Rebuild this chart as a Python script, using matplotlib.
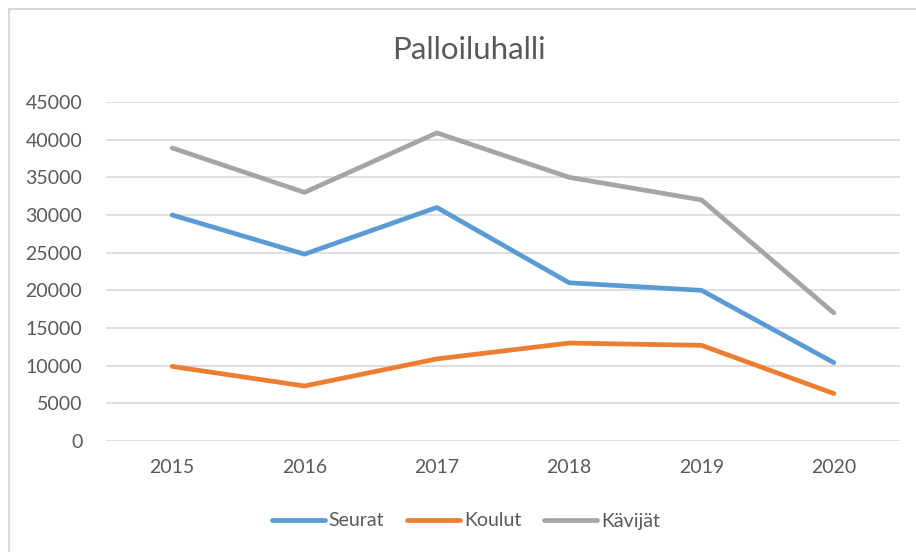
import matplotlib
matplotlib.use("Agg")
import matplotlib.pyplot as plt
from matplotlib.patches import Rectangle

plt.rcParams['font.family'] = ['Lato', 'DejaVu Sans']

years = ["2015", "2016", "2017", "2018", "2019", "2020"]
seurat = [30000, 24800, 31000, 21000, 20000, 10400]
koulut = [9900, 7300, 10900, 13000, 12700, 6300]
kavijat = [38900, 33000, 40900, 35000, 32000, 17000]
series_names = ["Seurat", "Koulut", "Kävijät"]
colors = ["#5B9BD5", "#ED7D31", "#A5A5A5"]
yticks = list(range(0, 45001, 5000))

fig = plt.figure(figsize=(9.16, 5.52), dpi=100)
fig.patch.set_facecolor("white")

# chart frame
fig.add_artist(Rectangle((8.5 / 916, -0.05), 1.2, 1.05 - 8.5 / 552,
                         transform=fig.transFigure, fill=False,
                         edgecolor="#D9D9D9", linewidth=1.5))

ax = fig.add_axes([106 / 916, 111 / 552, (900 - 106) / 916, (441 - 102) / 552])
x = list(range(len(years)))
for vals, name, c in zip([seurat, koulut, kavijat], series_names, colors):
    ax.plot(x, vals, color=c, linewidth=3.4, label=name,
            solid_capstyle="round", solid_joinstyle="round")

ax.set_xlim(-0.5, len(years) - 0.5)
ax.set_ylim(0, 45000)
ax.set_yticks(yticks)
ax.set_yticklabels([str(v) for v in yticks])
ax.set_xticks(x)
ax.set_xticklabels(years)
ax.grid(axis="y", color="#D9D9D9", linewidth=1.2)
ax.set_axisbelow(True)
for s in ax.spines.values():
    s.set_visible(False)
ax.tick_params(axis="both", length=0, labelsize=14, colors="#595959")
ax.tick_params(axis="y", pad=17)
ax.tick_params(axis="x", pad=13)

fig.text(469 / 916, 1 - 50 / 552, "Palloiluhalli", ha="center", va="center",
         fontsize=22.5, color="#595959")

fig.legend(loc="center", bbox_to_anchor=(466 / 916, 1 - 521 / 552), ncol=3,
           frameon=False, fontsize=14, handlelength=2.7, handletextpad=0.2,
           columnspacing=1.2, labelcolor="#595959")

fig.savefig("out.png", dpi=100)
